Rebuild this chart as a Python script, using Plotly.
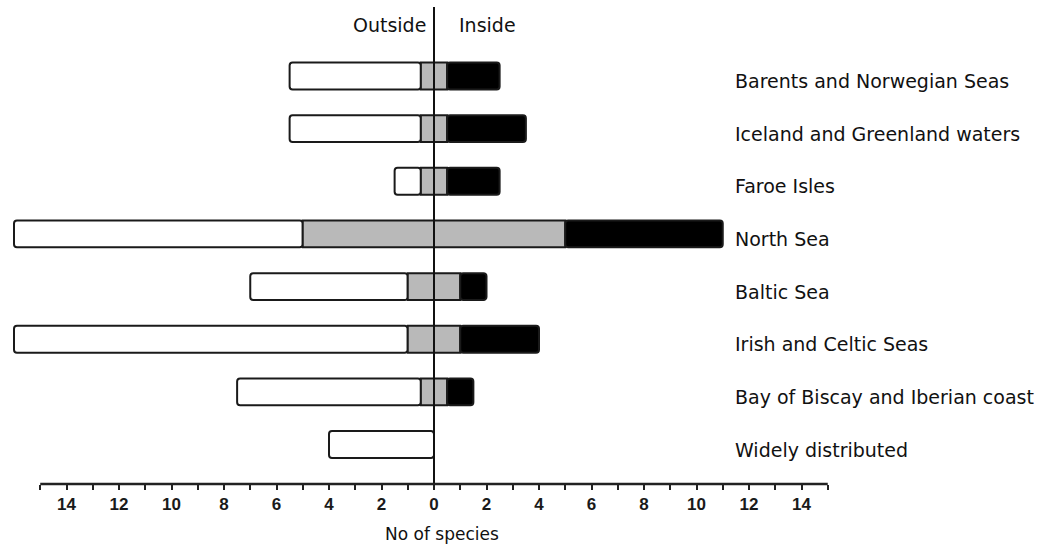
import plotly.graph_objects as go

# ---- data ----
categories = [
    "Barents and Norwegian Seas",
    "Iceland and Greenland waters",
    "Faroe Isles",
    "North Sea",
    "Baltic Sea",
    "Irish and Celtic Seas",
    "Bay of Biscay and Iberian coast",
    "Widely distributed",
]
outside_only = [5, 5, 1, 11, 6, 15, 7, 4]   # white
both_sides = [1, 1, 1, 10, 2, 2, 1, 0]      # grey (split across zero)
inside_only = [2, 3, 2, 6, 1, 3, 1, 0]      # black
tick_values = [-14, -12, -10, -8, -6, -4, -2, 0, 2, 4, 6, 8, 10, 12, 14]
tick_labels = [str(abs(v)) for v in tick_values]
minor_values = [-15, -13, -11, -9, -7, -5, -3, -1, 1, 3, 5, 7, 9, 11, 13, 15]

# ---- layout geometry ----
W, H = 1037, 546
ML, MR, MT, MB = 4, 199, 7, 62
px_per_unit = 26.25
zero_px = 434
x_min = -(zero_px - ML) / px_per_unit
x_max = (W - MR - zero_px) / px_per_unit

half = [b / 2 for b in both_sides]
outline = dict(color="#1a1a1a", width=2)
bw = 0.51

fig = go.Figure()
# white: from -half outward to the left
fig.add_trace(go.Bar(
    y=categories, x=[-o for o in outside_only], base=[-h for h in half],
    orientation="h", width=bw, marker=dict(color="#ffffff", line=outline, cornerradius=3),
    hoverinfo="skip",
))
# grey: centred on zero
fig.add_trace(go.Bar(
    y=categories, x=both_sides, base=[-h for h in half],
    orientation="h", width=bw, marker=dict(color="#b9b9b9", line=outline),
    hoverinfo="skip",
))
# black: from +half outward to the right
fig.add_trace(go.Bar(
    y=categories, x=inside_only, base=half,
    orientation="h", width=bw, marker=dict(color="#000000", line=outline, cornerradius=3),
    hoverinfo="skip",
))

font_main = "DejaVu Sans"
annotations = []
for c in categories:
    annotations.append(dict(
        x=(733 - zero_px) / px_per_unit, y=c, xref="x", yref="y",
        text=c, showarrow=False, xanchor="left", yanchor="middle", yshift=-5,
        font=dict(family=font_main, size=19, color="#111111"),
    ))
annotations += [
    dict(x=0, y=1, xref="x", yref="paper", yshift=-18, xshift=-6, text="Outside",
         showarrow=False, xanchor="right", yanchor="middle",
         font=dict(family=font_main, size=19, color="#111111")),
    dict(x=0, y=1, xref="x", yref="paper", yshift=-18, xshift=23, text="Inside",
         showarrow=False, xanchor="left", yanchor="middle",
         font=dict(family=font_main, size=19, color="#111111")),
    dict(x=8 / px_per_unit, y=0, xref="x", yref="paper", yshift=-50, text="No of species",
         showarrow=False, xanchor="center", yanchor="middle",
         font=dict(family=font_main, size=17, color="#111111")),
]

shapes = [
    # zero line above bars
    dict(type="line", xref="x", yref="paper", x0=0, x1=0, y0=0, y1=1,
         line=dict(color="#111111", width=2), layer="above"),
    # horizontal axis line from -15 to 15
    dict(type="line", xref="x", yref="paper", x0=-15, x1=15, y0=0, y1=0,
         line=dict(color="#222222", width=2.5), layer="above"),
]

fig.update_layout(
    width=W, height=H,
    margin=dict(l=ML, r=MR, t=MT, b=MB),
    paper_bgcolor="white", plot_bgcolor="white",
    barmode="overlay", showlegend=False,
    annotations=annotations, shapes=shapes,
    xaxis=dict(
        range=[x_min, x_max], showgrid=False, zeroline=False, showline=False,
        tickmode="array", tickvals=tick_values, ticktext=tick_labels,
        ticks="outside", ticklen=5, tickwidth=2, tickcolor="#222222",
        tickfont=dict(family="Liberation Sans Narrow, Arial Narrow, Liberation Sans",
                      size=17, color="#1a1a1a", weight="bold"),
        minor=dict(tickvals=minor_values, ticks="outside", ticklen=5,
                   tickwidth=2, tickcolor="#222222", showgrid=False),
        fixedrange=True,
    ),
    yaxis=dict(
        type="category", categoryorder="array", categoryarray=categories,
        range=[7.75, -1.31], showticklabels=False, showgrid=False,
        zeroline=False, showline=False, ticks="", fixedrange=True,
    ),
)

fig.write_html(
    "out.html",
    config={"displayModeBar": False},
    post_script="document.body.style.margin='0';document.body.style.overflow='hidden';",
)
